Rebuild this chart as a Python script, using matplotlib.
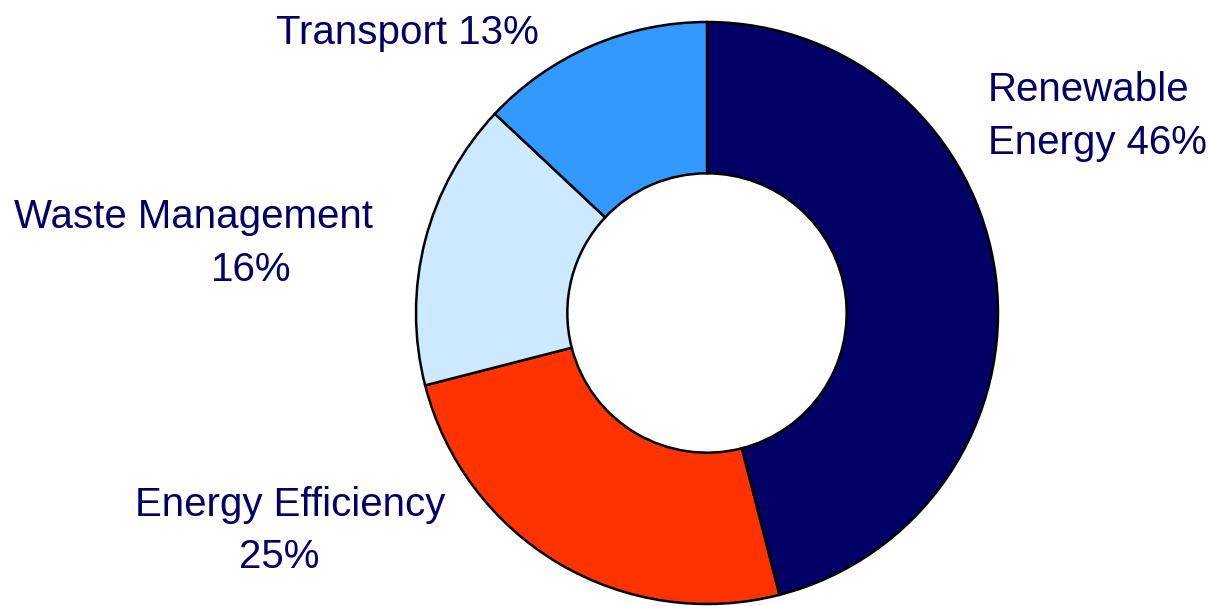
import matplotlib
matplotlib.use("Agg")
import matplotlib.pyplot as plt

# data
categories = ["Renewable Energy", "Energy Efficiency", "Waste Management", "Transport"]
shares = [46, 25, 16, 13]
colors = ["#000066", "#FF3300", "#CCE9FF", "#3399FF"]

# label lines (split as in the original) and their anchor positions in pixels
label_lines = [
    ["Renewable", "Energy 46%"],
    ["Energy Efficiency", "25%"],
    ["Waste Management", "16%"],
    ["Transport 13%"],
]
label_pos = [
    [(988, 90, "left"), (988, 143, "left")],
    [(290, 505, "center"), (279, 557, "center")],
    [(193, 217, "center"), (251, 270, "center")],
    [(407, 33, "center")],
]

W, H = 1208, 606
fig = plt.figure(figsize=(W / 100, H / 100), dpi=100)
ax = fig.add_axes([0, 0, 1, 1])

cx, cy, r = 707, H - 313, 291
ax.pie(shares, colors=colors, startangle=90, counterclock=False,
       center=(cx, cy), radius=r,
       wedgeprops=dict(width=r * 0.52, edgecolor="black", linewidth=1.8))

for lines, poss in zip(label_lines, label_pos):
    for txt, (x, y, ha) in zip(lines, poss):
        ax.text(x, H - y, txt, ha=ha, va="center", fontsize=29,
                color="#000066", family=["Liberation Sans", "DejaVu Sans"])

ax.set_xlim(0, W)
ax.set_ylim(0, H)
ax.set_aspect("equal")
ax.axis("off")

fig.savefig("out.png", dpi=100)
